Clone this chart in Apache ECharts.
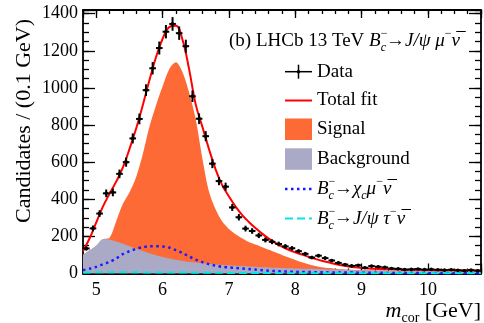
<!DOCTYPE html>
<html>
<head>
<meta charset="utf-8">
<script src="https://cdn.jsdelivr.net/npm/echarts@6/dist/echarts.min.js"></script>
<style>
  html, body { margin: 0; padding: 0; background: #fff; }
  #main { width: 484px; height: 323px; }
</style>
</head>
<body>
<div id="main"></div>
<script>
// bin centres (0.1 GeV bins) and measured candidates
const dataMass = [4.85, 4.95, 5.05, 5.15, 5.25, 5.35, 5.45, 5.55, 5.65, 5.75,
  5.85, 5.95, 6.05, 6.15, 6.25, 6.35, 6.45, 6.55, 6.65, 6.75,
  6.85, 6.95, 7.05, 7.15, 7.25, 7.35, 7.45, 7.55, 7.65, 7.75,
  7.85, 7.95, 8.05, 8.15, 8.25, 8.35, 8.45, 8.55, 8.65, 8.75,
  8.85, 8.95, 9.05, 9.15, 9.25, 9.35, 9.45, 9.55, 9.65, 9.75,
  9.85, 9.95, 10.05, 10.15, 10.25, 10.35, 10.45, 10.55, 10.65, 10.75];
const dataCounts = [135, 243, 323, 432, 437, 537, 600, 728, 833, 988,
  1106, 1215, 1303, 1345, 1295, 1225, 955, 834, 740, 592,
  498, 468, 356, 303, 242, 229, 205, 181, 171, 159,
  146, 136, 120, 106, 86, 96, 83, 70, 57, 48,
  41, 44, 31, 40, 36, 33, 27, 25, 21, 22,
  24, 21, 22, 20, 18, 20, 17, 15, 18, 15];
const dataErrors = [11.6, 15.6, 18.0, 20.8, 20.9, 23.2, 24.5, 27.0, 28.9, 31.4,
  33.3, 34.9, 36.1, 36.7, 36.0, 35.0, 30.9, 28.9, 27.2, 24.3,
  22.3, 21.6, 18.9, 17.4, 15.6, 15.1, 14.3, 13.5, 13.1, 12.6,
  12.1, 11.7, 11.0, 10.3, 9.3, 9.8, 9.1, 8.4, 7.5, 6.9,
  6.4, 6.6, 5.6, 6.3, 6.0, 5.7, 5.2, 5.0, 4.6, 4.7,
  4.9, 4.6, 4.7, 4.5, 4.2, 4.5, 4.1, 3.9, 4.2, 3.9];

// fit components sampled on 0.1 GeV grid
const fitMass = [4.8, 4.9, 5.0, 5.1, 5.2, 5.3, 5.4, 5.5, 5.6, 5.7,
  5.8, 5.9, 6.0, 6.1, 6.2, 6.3, 6.4, 6.5, 6.6, 6.7,
  6.8, 6.9, 7.0, 7.1, 7.2, 7.3, 7.4, 7.5, 7.6, 7.7,
  7.8, 7.9, 8.0, 8.1, 8.2, 8.3, 8.4, 8.5, 8.6, 8.7,
  8.8, 8.9, 9.0, 9.1, 9.2, 9.3, 9.4, 9.5, 9.6, 9.7,
  9.8, 9.9, 10.0, 10.1, 10.2, 10.3, 10.4, 10.5, 10.6, 10.7, 10.8];
const totalFit = [120, 190, 275, 360, 430, 495, 570, 670, 780, 905,
  1040, 1165, 1265, 1328, 1335, 1260, 1100, 910, 790, 670,
  560, 475, 415, 360, 315, 278, 245, 215, 188, 165,
  145, 128, 114, 102, 90, 79, 69, 60, 51, 44,
  38, 34, 30, 27, 25, 24, 23, 22, 21, 20,
  20, 19, 19, 18, 18, 18, 17, 17, 17, 16, 16];
const background = [100, 125, 150, 185, 183, 172, 160, 147, 134, 121,
  109, 98, 89, 81, 74, 68, 63, 59, 55, 52,
  49, 46, 44, 42, 40, 38, 36, 34, 33, 31,
  30, 28, 27, 26, 25, 24, 23, 22, 21, 20,
  19, 18, 18, 17, 16, 16, 15, 15, 14, 14,
  13, 13, 12, 12, 12, 11, 11, 11, 10, 10, 10];
const signal = [0, 0, 0, 0, 10, 110, 215, 290, 385, 520,
  680, 808, 920, 1020, 1064, 1017, 912, 771, 565, 388,
  296, 234, 196, 170, 150, 132, 120, 108, 95, 83,
  70, 58, 46, 35, 25, 17, 11, 7, 5, 3,
  2, 1, 0, 0, 0, 0, 0, 0, 0, 0,
  0, 0, 0, 0, 0, 0, 0, 0, 0, 0, 0];
const chicMuNu = [18, 26, 36, 50, 62, 80, 104, 120, 133, 142,
  146, 147, 146, 140, 126, 110, 92, 75, 61, 50,
  42, 36, 33, 30, 27, 24, 21, 18, 15, 13,
  11, 10, 9, 8, 8, 7, 7, 6, 6, 5,
  5, 5, 4, 4, 4, 4, 3, 3, 3, 3,
  3, 3, 2, 2, 2, 2, 2, 2, 2, 2, 2];
const jpsiTauNu = [5, 6, 7, 7, 7, 7, 7, 7, 7, 6,
  6, 6, 6, 5, 5, 5, 5, 4, 4, 4,
  4, 4, 3, 3, 3, 3, 3, 3, 3, 2,
  2, 2, 2, 2, 2, 2, 2, 2, 2, 2,
  2, 2, 1, 1, 1, 1, 1, 1, 1, 1,
  1, 1, 1, 1, 1, 1, 1, 1, 1, 1, 1];

const xTickLabels = [5, 6, 7, 8, 9, 10];
const yTickLabels = [0, 200, 400, 600, 800, 1000, 1200, 1400];

const SERIF = "'Liberation Serif', 'DejaVu Serif', serif";
const X_MIN = 4.8, X_MAX = 10.8, Y_MIN = 0, Y_MAX = 1420;

const pairs = (xs, ys) => xs.map((x, i) => [x, ys[i]]);
// signal is drawn stacked on top of the background
const signalTop = background.map((b, i) => b + signal[i]);

const tickStyle = { color: "#000", width: 1.3 };
const frameLine = { show: true, onZero: false, lineStyle: { color: "#000", width: 1.8 } };

function xAxisPair(position, showLabels) {
  return [
    {
      type: "value", position, min: X_MIN, max: X_MAX, interval: 0.2,
      axisLine: frameLine,
      axisTick: { inside: true, length: position === "bottom" ? 5 : 4, lineStyle: tickStyle },
      axisLabel: { show: false },
      splitLine: { show: false },
    },
    {
      type: "value", position, min: X_MIN, max: X_MAX, splitNumber: 6,
      axisLine: { show: false, onZero: false },
      axisTick: { inside: true, length: position === "bottom" ? 10 : 8, lineStyle: tickStyle },
      axisLabel: {
        show: showLabels, margin: 8, color: "#000", fontFamily: SERIF, fontSize: 18,
        formatter: (v) => (xTickLabels.includes(Math.round(v * 1000) / 1000) ? String(v) : ""),
      },
      splitLine: { show: false },
    },
  ];
}

function yAxisPair(position, showLabels) {
  return [
    {
      type: "value", position, min: Y_MIN, max: Y_MAX, interval: 50,
      axisLine: frameLine,
      axisTick: { inside: true, length: 6, lineStyle: tickStyle },
      axisLabel: { show: false },
      splitLine: { show: false },
    },
    {
      type: "value", position, min: Y_MIN, max: Y_MAX, interval: 200,
      axisLine: { show: false, onZero: false },
      axisTick: { inside: true, length: 12, lineStyle: tickStyle },
      axisLabel: {
        show: showLabels, margin: 5, color: "#000", fontFamily: SERIF, fontSize: 18,
        formatter: (v) => (yTickLabels.includes(v) ? String(v) : ""),
      },
      splitLine: { show: false },
    },
  ];
}

const rich = {
  r: { fontFamily: SERIF, fontSize: 19, color: "#000", lineHeight: 26 },
  i: { fontFamily: SERIF, fontSize: 19, fontStyle: "italic", color: "#000", lineHeight: 26 },
  sup: { fontFamily: SERIF, fontSize: 12, color: "#000", lineHeight: 13, verticalAlign: "top", width: 0 },
  supw: { fontFamily: SERIF, fontSize: 12, color: "#000", lineHeight: 13, verticalAlign: "top" },
  sub: { fontFamily: SERIF, fontSize: 12, fontStyle: "italic", color: "#000", lineHeight: 13, verticalAlign: "bottom" },
  big: { fontFamily: SERIF, fontSize: 22, color: "#000", lineHeight: 28 },
  bigi: { fontFamily: SERIF, fontSize: 22, fontStyle: "italic", color: "#000", lineHeight: 28 },
  bigsub: { fontFamily: SERIF, fontSize: 14, color: "#000", lineHeight: 14, verticalAlign: "bottom" },
};

function label(x, y, text, extra) {
  return Object.assign({
    type: "text", x, y, z: 100,
    style: { text, rich, align: "left", verticalAlign: "middle" },
  }, extra || {});
}

const LX0 = 285, LX1 = 312, LT = 317;
const rows = [71.7, 100.5, 129.5, 159.3, 189, 218.5];

const chart = echarts.init(document.getElementById("main"), null, { renderer: "canvas" });

chart.setOption({
  backgroundColor: "#fff",
  animation: false,
  grid: { left: 83, right: 2, top: 10, bottom: 49.5 },
  xAxis: [...xAxisPair("bottom", true), ...xAxisPair("top", false)],
  yAxis: [...yAxisPair("left", true), ...yAxisPair("right", false)],
  series: [
    {
      name: "Signal", type: "line", data: pairs(fitMass, signalTop),
      showSymbol: false, smooth: 0.3, lineStyle: { width: 0 },
      areaStyle: { color: "#fe6a35", opacity: 1 }, z: 1,
    },
    {
      name: "Background", type: "line", data: pairs(fitMass, background),
      showSymbol: false, smooth: 0.3, lineStyle: { width: 0 },
      areaStyle: { color: "#aaaac6", opacity: 1 }, z: 2,
    },
    {
      name: "chic", type: "line", data: pairs(fitMass, chicMuNu),
      showSymbol: false, smooth: 0.3,
      lineStyle: { color: "#1a1aff", width: 2.5, type: [2.5, 3.5] }, z: 3,
    },
    {
      name: "tau", type: "line", data: pairs(fitMass, jpsiTauNu),
      showSymbol: false, smooth: 0.3,
      lineStyle: { color: "#00e8e8", width: 2, type: [8, 4] }, z: 3,
    },
    {
      name: "Total fit", type: "line", data: pairs(fitMass, totalFit),
      showSymbol: false, smooth: 0.4,
      lineStyle: { color: "#ff0000", width: 2 }, z: 4,
    },
    {
      name: "Data", type: "custom", z: 5,
      data: dataMass.map((m, i) => [m, dataCounts[i], dataErrors[i]]),
      encode: { x: 0, y: 1 },
      renderItem: (params, api) => {
        const m = api.value(0), n = api.value(1), e = api.value(2);
        const c = api.coord([m, n]);
        const l = api.coord([m - 0.05, n]);
        const r = api.coord([m + 0.05, n]);
        const t = api.coord([m, n + e]);
        const b = api.coord([m, n - e]);
        const st = { stroke: "#000", lineWidth: 2 };
        return {
          type: "group",
          children: [
            { type: "line", shape: { x1: l[0], y1: c[1], x2: r[0], y2: c[1] }, style: st },
            { type: "line", shape: { x1: c[0], y1: t[1], x2: c[0], y2: b[1] }, style: st },
            { type: "circle", shape: { cx: c[0], cy: c[1], r: 1.8 }, style: { fill: "#000" } },
          ],
        };
      },
    },
  ],
  graphic: [
    // title
    label(229, 41, "{r|(b) LHCb 13 TeV }{i|B}{sup|\u2212}{sub|c}{r|\u2192}{i|J/\u03C8 \u03BC}{supw|\u2212}{i|\u03BD\u0305}"),
    // legend
    { type: "line", shape: { x1: LX0, y1: rows[0], x2: LX1, y2: rows[0] }, style: { stroke: "#000", lineWidth: 1.5 } },
    { type: "line", shape: { x1: 298.5, y1: rows[0] - 7, x2: 298.5, y2: rows[0] + 7 }, style: { stroke: "#000", lineWidth: 1.5 } },
    { type: "circle", shape: { cx: 298.5, cy: rows[0], r: 1.8 }, style: { fill: "#000" } },
    label(LT, rows[0], "{r|Data}"),
    { type: "line", shape: { x1: LX0, y1: rows[1], x2: LX1, y2: rows[1] }, style: { stroke: "#ff0000", lineWidth: 2 } },
    label(LT, rows[1], "{r|Total fit}"),
    { type: "rect", shape: { x: LX0, y: rows[2] - 11, width: LX1 - LX0, height: 21.5 }, style: { fill: "#fe6a35" } },
    label(LT, rows[2], "{r|Signal}"),
    { type: "rect", shape: { x: LX0, y: rows[3] - 11, width: LX1 - LX0, height: 21.5 }, style: { fill: "#aaaac6" } },
    label(LT, rows[3], "{r|Background}"),
    { type: "line", shape: { x1: LX0, y1: rows[4], x2: LX1, y2: rows[4] }, style: { stroke: "#1a1aff", lineWidth: 2.5, lineDash: [2.5, 3.5] } },
    label(LT, rows[4], "{i|B}{sup|\u2212}{sub|c}{r|\u2192}{i|\u03C7}{sub|c}{i|\u03BC}{supw|\u2212}{i|\u03BD\u0305}"),
    { type: "line", shape: { x1: LX0, y1: rows[5], x2: LX1, y2: rows[5] }, style: { stroke: "#00e8e8", lineWidth: 2, lineDash: [8, 4] } },
    label(LT, rows[5], "{i|B}{sup|\u2212}{sub|c}{r|\u2192}{i|J/\u03C8 \u03C4}{supw|\u2212}{i|\u03BD\u0305}"),
    // axis titles
    label(24, 121, "", {
      rotation: Math.PI / 2,
      style: { text: "{big|Candidates / (0.1 GeV)}", rich, align: "center", verticalAlign: "middle" },
    }),
    label(481, 311, "", {
      style: { text: "{bigi|m}{bigsub|cor}{big| [GeV]}", rich, align: "right", verticalAlign: "middle" },
    }),
  ],
});
</script>
</body>
</html>
